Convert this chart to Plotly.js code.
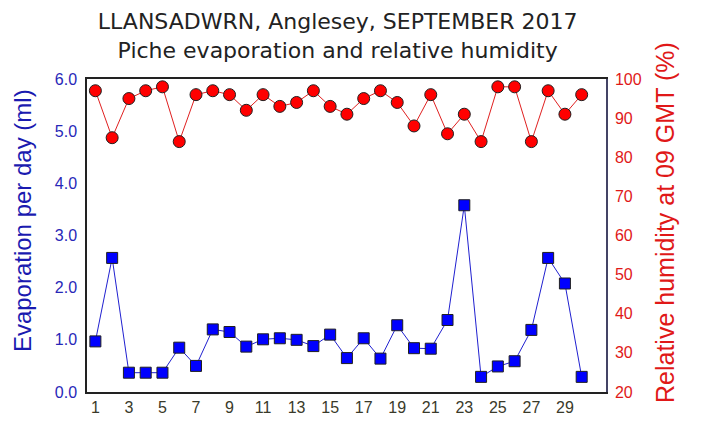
<!DOCTYPE html>
<html><head><meta charset="utf-8">
<script src="https://cdn.plot.ly/plotly-3.0.1.min.js"></script>
<style>body{margin:0;background:#fff}#c{width:704px;height:426px}</style>
</head><body><div id="c"></div>
<script>
const days = [1,2,3,4,5,6,7,8,9,10,11,12,13,14,15,16,17,18,19,20,21,22,23,24,25,26,27,28,29,30];
const evaporation = [0.97,2.57,0.37,0.37,0.37,0.85,0.50,1.20,1.15,0.87,1.01,1.03,1.00,0.88,1.10,0.65,1.03,0.64,1.28,0.84,0.83,1.38,3.58,0.29,0.49,0.59,1.19,2.57,2.08,0.29];
const humidity = [97,85,95,97,98,84,96,97,96,92,96,93,94,97,93,91,95,97,94,88,96,86,91,84,98,98,84,97,91,96];
const xTicks = [1,3,5,7,9,11,13,15,17,19,21,23,25,27,29];
const leftTicks = [0,1,2,3,4,5,6];
const rightTicks = [20,30,40,50,60,70,80,90,100];
const leftTitle = 'Evaporation per day (ml)';
const rightTitle = 'Relative humidity at 09 GMT (%)';

const traces = [
  {x: days, y: humidity, yaxis: 'y2', mode: 'lines+markers', type: 'scatter',
   line: {color: '#e02020', width: 1},
   marker: {symbol: 'circle', size: 12, color: '#ff0000', line: {color: '#202020', width: 1}}},
  {x: days, y: evaporation, mode: 'lines+markers', type: 'scatter',
   line: {color: '#2020d0', width: 1},
   marker: {symbol: 'square', size: 11, color: '#0000ff', line: {color: '#202020', width: 1}}}
];
const layout = {
  width: 704, height: 426,
  margin: {l: 87, r: 98, t: 79, b: 34},
  paper_bgcolor: '#fff', plot_bgcolor: '#fff',
  showlegend: false,
  title: {text: 'LLANSADWRN, Anglesey, SEPTEMBER 2017<br>Piche evaporation and relative humidity',
          font: {family: 'DejaVu Sans', size: 22, color: '#222'},
          x: 0.483, xref: 'paper', xanchor: 'center', y: 0.932, yref: 'container', yanchor: 'middle'},
  xaxis: {range: [0.5, 31.45], tickvals: xTicks, ticktext: xTicks.map(String), showgrid: false, zeroline: false,
          ticks: '', showline: true, linecolor: '#222', linewidth: 1.5, mirror: true,
          tickfont: {family: 'Liberation Sans', size: 16, color: '#3a3a2a'}},
  yaxis: {range: [0, 6], tickvals: leftTicks, ticktext: leftTicks.map(v => v.toFixed(1)), showgrid: false, zeroline: false,
          ticks: '', showline: true, linecolor: '#222', linewidth: 1.5, ticklabelstandoff: 5,
          tickfont: {family: 'Liberation Sans', size: 16, color: '#2828b8'}},
  yaxis2: {range: [20, 100], tickvals: rightTicks, overlaying: 'y', side: 'right', showgrid: false, zeroline: false,
          ticks: '', showline: true, linecolor: '#444466', linewidth: 1.5, ticklabelstandoff: 4,
          tickfont: {family: 'Liberation Sans', size: 16, color: '#e01818'}},
  annotations: [
    {text: leftTitle, xref: 'paper', yref: 'paper', x: -0.1252, y: 0.546, xanchor: 'center', yanchor: 'middle',
     textangle: -90, showarrow: false, font: {family: 'Liberation Sans', size: 24, color: '#1a1ab0'}},
    {text: rightTitle, xref: 'paper', yref: 'paper', x: 1.1137, y: 0.540, xanchor: 'center', yanchor: 'middle',
     textangle: -90, showarrow: false, font: {family: 'Liberation Sans', size: 25, color: '#e01818'}}
  ]
};
Plotly.newPlot('c', traces, layout, {displayModeBar: false});
</script></body></html>
